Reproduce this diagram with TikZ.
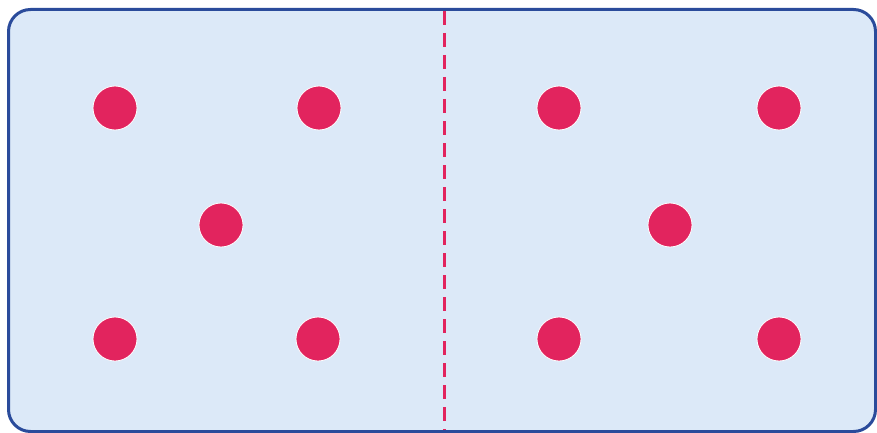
\documentclass[tikz,border=0pt]{standalone}
\definecolor{tilebg}{HTML}{DCE9F8}
\definecolor{tileedge}{HTML}{2A4B9B}
\definecolor{pip}{HTML}{E2245E}
\tikzset{
  pipdot/.style={circle, fill=pip, draw=white, line width=0.8pt, minimum size=44pt, inner sep=0pt},
  tile/.style={fill=tilebg, draw=tileedge, line width=3pt, rounded corners=22pt},
  divider/.style={draw=pip, line width=3pt, dash pattern=on 14pt off 8pt}
}
\begin{document}
\begin{tikzpicture}[x=1pt,y=-1pt]
\useasboundingbox (0,0) rectangle (877,433);
\fill[white] (0,0) rectangle (877,433);
\draw[tile] (8.5,9.5) rectangle (875.5,431.5);
\coordinate (top) at (444,11);
\coordinate (bot) at (444,430);
\draw[divider] (top) -- (bot);
\node[pipdot] (l1) at (115,108) {};
\node[pipdot] (l2) at (319,108) {};
\node[pipdot] (l3) at (221,225) {};
\node[pipdot] (l4) at (115,339) {};
\node[pipdot] (l5) at (318,339) {};
\node[pipdot] (r1) at (559,108) {};
\node[pipdot] (r2) at (779,108) {};
\node[pipdot] (r3) at (670,225) {};
\node[pipdot] (r4) at (559,339) {};
\node[pipdot] (r5) at (779,339) {};
\end{tikzpicture}
\end{document}
